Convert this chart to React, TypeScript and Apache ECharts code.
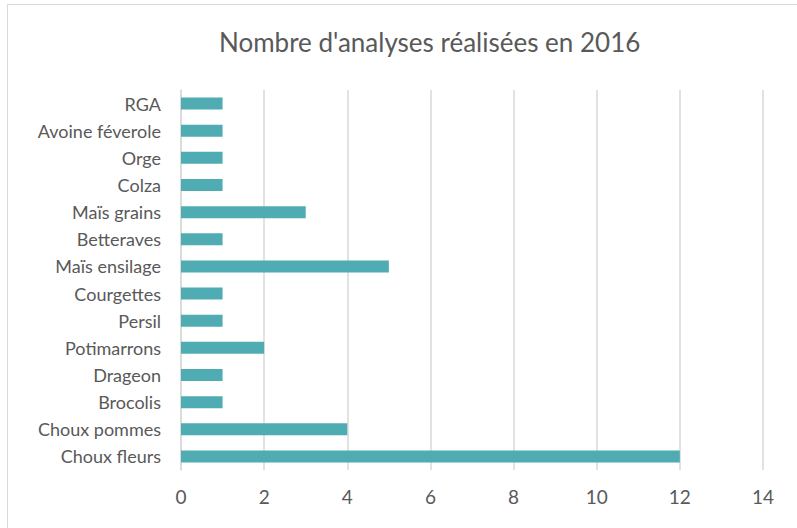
import React, { useEffect, useRef } from "react";
import * as echarts from "echarts";

const categories = [
  "Choux fleurs",
  "Choux pommes",
  "Brocolis",
  "Drageon",
  "Potimarrons",
  "Persil",
  "Courgettes",
  "Maïs ensilage",
  "Betteraves",
  "Maïs grains",
  "Colza",
  "Orge",
  "Avoine féverole",
  "RGA",
];
const values = [12, 4, 1, 1, 2, 1, 1, 5, 1, 3, 1, 1, 1, 1];
const xTicks = { min: 0, max: 14, interval: 2 };
const title = "Nombre d'analyses réalisées en 2016";

export default function App() {
  const ref = useRef<HTMLDivElement>(null);
  useEffect(() => {
    if (!ref.current) return;
    const chart = echarts.init(ref.current, undefined, { renderer: "svg" });
    const font = "Lato, 'Open Sans', sans-serif";
    chart.setOption({
      animation: false,
      backgroundColor: "#ffffff",
      title: {
        text: title,
        left: 214,
        top: 24,
        textStyle: { fontFamily: font, fontSize: 26, fontWeight: "normal", color: "#595959" },
      },
      graphic: [
        {
          type: "rect",
          shape: { x: 7.5, y: 4.5, width: 800, height: 530 },
          style: { fill: "none", stroke: "#d9d9d9", lineWidth: 1 },
          silent: true,
        },
      ],
      grid: { left: 181, right: 34, top: 90, bottom: 58, containLabel: false },
      xAxis: {
        type: "value",
        min: xTicks.min,
        max: xTicks.max,
        interval: xTicks.interval,
        axisLine: { show: false },
        axisTick: { show: false },
        splitLine: { show: true, lineStyle: { color: "#d9d9d9", width: 1.5 } },
        axisLabel: { fontFamily: font, fontSize: 19, color: "#595959", margin: 17 },
      },
      yAxis: {
        type: "category",
        data: categories,
        axisLine: { show: true, lineStyle: { color: "#d9d9d9", width: 1.5 } },
        axisTick: { show: false },
        axisLabel: { fontFamily: font, fontSize: 18, color: "#595959", margin: 20 },
      },
      series: [
        {
          type: "bar",
          data: values,
          barWidth: 12,
          itemStyle: { color: "#4facb3" },
        },
      ],
    });
    return () => chart.dispose();
  }, []);
  return (
    <div
      ref={ref}
      style={{ position: "fixed", left: 0, top: 0, width: 797, height: 528 }}
    />
  );
}
